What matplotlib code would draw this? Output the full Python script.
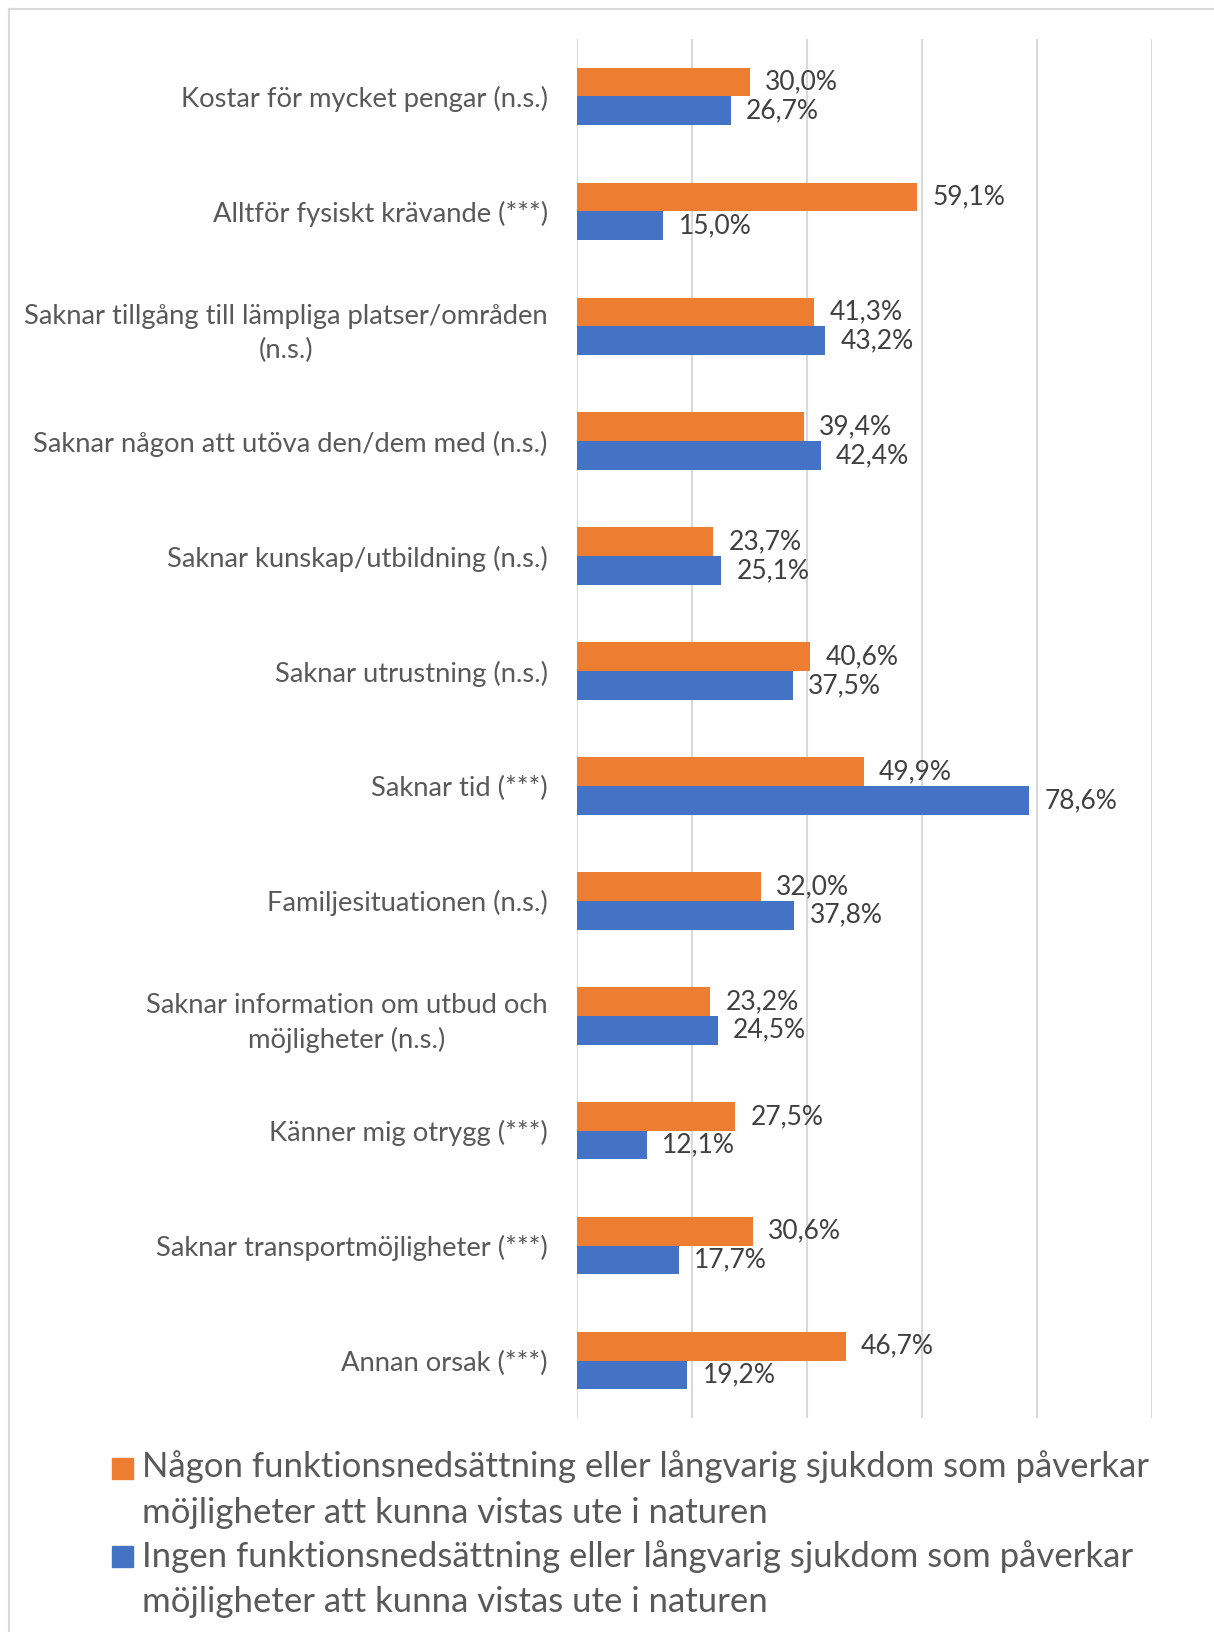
import matplotlib.pyplot as plt
from matplotlib.patches import Rectangle
from matplotlib.lines import Line2D

plt.rcParams['font.family'] = ['Lato', 'DejaVu Sans']

categories = [
    "Kostar för mycket pengar (n.s.)",
    "Alltför fysiskt krävande (***)",
    "Saknar tillgång till lämpliga platser/områden\n(n.s.)",
    "Saknar någon att utöva den/dem med (n.s.)",
    "Saknar kunskap/utbildning (n.s.)",
    "Saknar utrustning (n.s.)",
    "Saknar tid (***)",
    "Familjesituationen (n.s.)",
    "Saknar information om utbud och\nmöjligheter (n.s.)",
    "Känner mig otrygg (***)",
    "Saknar transportmöjligheter (***)",
    "Annan orsak (***)",
]
nagon = [30.0, 59.1, 41.3, 39.4, 23.7, 40.6, 49.9, 32.0, 23.2, 27.5, 30.6, 46.7]
ingen = [26.7, 15.0, 43.2, 42.4, 25.1, 37.5, 78.6, 37.8, 24.5, 12.1, 17.7, 19.2]
legend_labels = [
    "Någon funktionsnedsättning eller långvarig sjukdom som påverkar\nmöjligheter att kunna vistas ute i naturen",
    "Ingen funktionsnedsättning eller långvarig sjukdom som påverkar\nmöjligheter att kunna vistas ute i naturen",
]

orange = "#ED7D31"
blue = "#4472C4"
grid_c = "#D9D9D9"
W, H = 1214, 1632

fig = plt.figure(figsize=(W / 100, H / 100), dpi=100)
ax = fig.add_axes([577 / W, 1 - 1418 / H, 575 / W, 1379 / H])

y = list(range(len(categories)))
h = 0.25
b1 = ax.barh([v - h / 2 for v in y], nagon, height=h, color=orange, zorder=3)
b2 = ax.barh([v + h / 2 for v in y], ingen, height=h, color=blue, zorder=3)

def pct(v):
    return f"{v:.1f}".replace(".", ",") + "%"

for bars, vals in ((b1, nagon), (b2, ingen)):
    for bar, v in zip(bars, vals):
        ax.annotate(pct(v), (bar.get_width(), bar.get_y() + bar.get_height() / 2),
                    xytext=(11, 0), textcoords="offset points", va="center", ha="left",
                    fontsize=19, color="#404040")

ax.set_xlim(0, 100)
ax.set_ylim(len(categories) - 0.5, -0.5)
ax.set_xticks([0, 20, 40, 60, 80, 100])
ax.set_xticklabels([])
ax.tick_params(axis="x", length=0)
ax.tick_params(axis="y", length=0, pad=21, labelsize=19.7, labelcolor="#595959")
ax.set_yticks(y)
ax.set_yticklabels(categories)
for t in ax.get_yticklabels():
    t.set_multialignment("center")
    t.set_linespacing(1.45)
ax.grid(axis="x", color=grid_c, linewidth=1.5, zorder=0)
for s in ax.spines.values():
    s.set_visible(False)

# legend, one text per line (baselines)
baselines = [(1477, 1523), (1567, 1612)]
for col, lab, ytop, bl in zip((orange, blue), legend_labels, (1458, 1546), baselines):
    fig.patches.append(Rectangle((112 / W, 1 - (ytop + 21) / H), 21 / W, 21 / H,
                                 transform=fig.transFigure, color=col))
    for line, b in zip(lab.split("\n"), bl):
        fig.text(142 / W, 1 - b / H, line, ha="left", va="baseline", fontsize=25,
                 color="#595959")

# outer frame: only top and left edges are visible
fig.add_artist(Line2D([9 / W, 1], [1 - 9 / H, 1 - 9 / H], color=grid_c, linewidth=1.5))
fig.add_artist(Line2D([9 / W, 9 / W], [0, 1 - 9 / H], color=grid_c, linewidth=1.5))

fig.savefig("out.png", dpi=100)
